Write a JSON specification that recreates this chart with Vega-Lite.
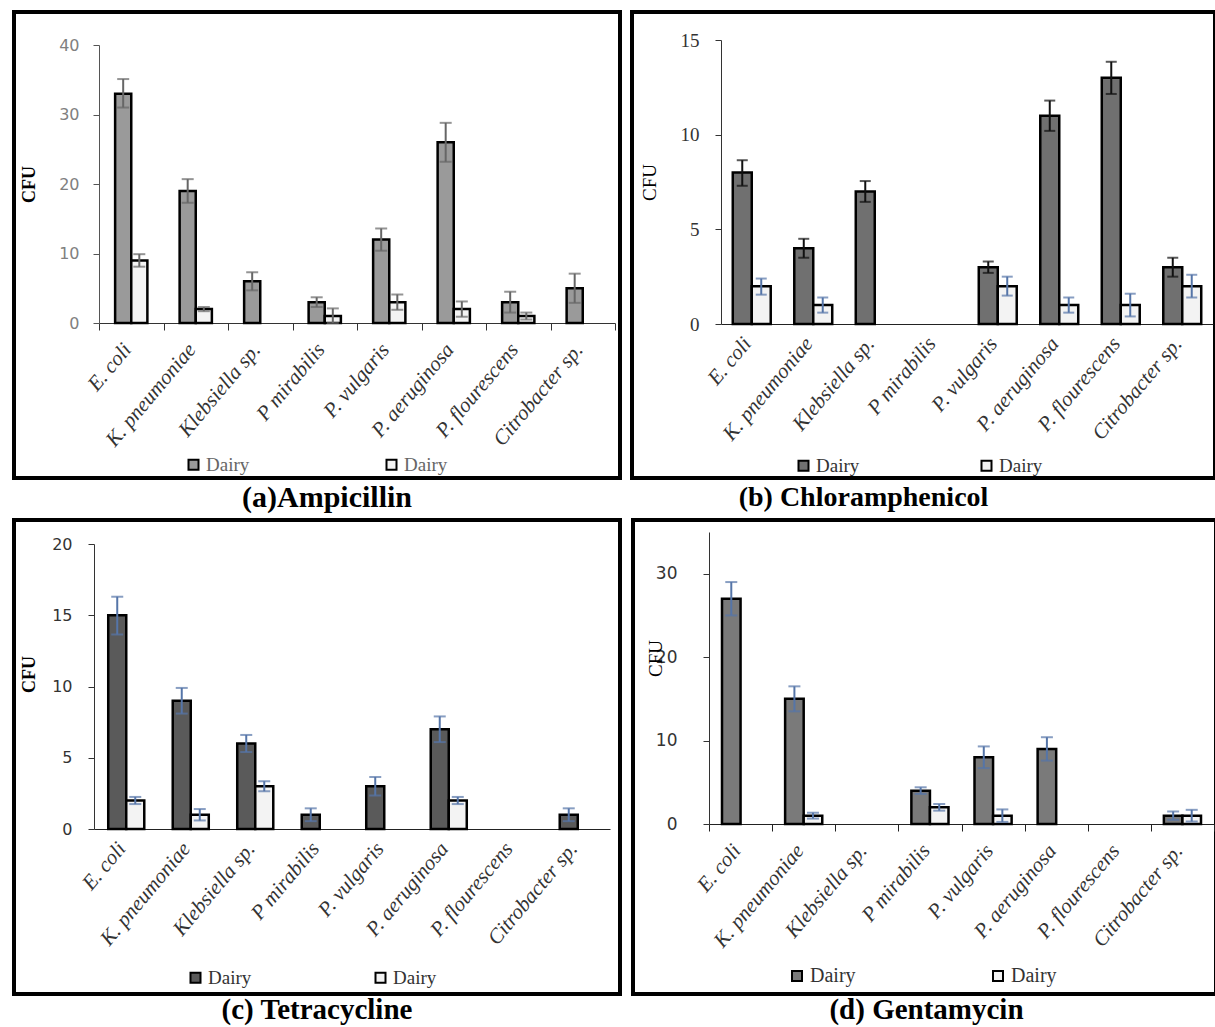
{
  "$schema": "https://vega.github.io/schema/vega-lite/v6.json",
  "background": "white",
  "padding": {"left": 3, "top": 10, "right": 0, "bottom": 0},
  "data": {"values": [
    {"antibiotic": "Ampicillin", "organism": "E. coli", "series": "Dairy 1", "value": 33, "lo": 31, "hi": 35.1},
    {"antibiotic": "Ampicillin", "organism": "E. coli", "series": "Dairy 2", "value": 9, "lo": 8.1, "hi": 9.9},
    {"antibiotic": "Ampicillin", "organism": "K. pneumoniae", "series": "Dairy 1", "value": 19, "lo": 17.3, "hi": 20.7},
    {"antibiotic": "Ampicillin", "organism": "K. pneumoniae", "series": "Dairy 2", "value": 2, "lo": 1.7, "hi": 2.3},
    {"antibiotic": "Ampicillin", "organism": "Klebsiella sp.", "series": "Dairy 1", "value": 6, "lo": 4.7, "hi": 7.3},
    {"antibiotic": "Ampicillin", "organism": "P mirabilis", "series": "Dairy 1", "value": 3, "lo": 2.3, "hi": 3.7},
    {"antibiotic": "Ampicillin", "organism": "P mirabilis", "series": "Dairy 2", "value": 1, "lo": 0, "hi": 2.1},
    {"antibiotic": "Ampicillin", "organism": "P. vulgaris", "series": "Dairy 1", "value": 12, "lo": 10.4, "hi": 13.6},
    {"antibiotic": "Ampicillin", "organism": "P. vulgaris", "series": "Dairy 2", "value": 3, "lo": 1.9, "hi": 4.1},
    {"antibiotic": "Ampicillin", "organism": "P. aeruginosa", "series": "Dairy 1", "value": 26, "lo": 23.2, "hi": 28.8},
    {"antibiotic": "Ampicillin", "organism": "P. aeruginosa", "series": "Dairy 2", "value": 2, "lo": 0.9, "hi": 3.1},
    {"antibiotic": "Ampicillin", "organism": "P. flourescens", "series": "Dairy 1", "value": 3, "lo": 1.5, "hi": 4.5},
    {"antibiotic": "Ampicillin", "organism": "P. flourescens", "series": "Dairy 2", "value": 1, "lo": 0.5, "hi": 1.5},
    {"antibiotic": "Ampicillin", "organism": "Citrobacter sp.", "series": "Dairy 1", "value": 5, "lo": 2.9, "hi": 7.1},

    {"antibiotic": "Chloramphenicol", "organism": "E. coli", "series": "Dairy 1", "value": 8, "lo": 7.3, "hi": 8.65},
    {"antibiotic": "Chloramphenicol", "organism": "E. coli", "series": "Dairy 2", "value": 2, "lo": 1.55, "hi": 2.4},
    {"antibiotic": "Chloramphenicol", "organism": "K. pneumoniae", "series": "Dairy 1", "value": 4, "lo": 3.5, "hi": 4.5},
    {"antibiotic": "Chloramphenicol", "organism": "K. pneumoniae", "series": "Dairy 2", "value": 1, "lo": 0.6, "hi": 1.4},
    {"antibiotic": "Chloramphenicol", "organism": "Klebsiella sp.", "series": "Dairy 1", "value": 7, "lo": 6.45, "hi": 7.55},
    {"antibiotic": "Chloramphenicol", "organism": "P. vulgaris", "series": "Dairy 1", "value": 3, "lo": 2.7, "hi": 3.3},
    {"antibiotic": "Chloramphenicol", "organism": "P. vulgaris", "series": "Dairy 2", "value": 2, "lo": 1.5, "hi": 2.5},
    {"antibiotic": "Chloramphenicol", "organism": "P. aeruginosa", "series": "Dairy 1", "value": 11, "lo": 10.2, "hi": 11.8},
    {"antibiotic": "Chloramphenicol", "organism": "P. aeruginosa", "series": "Dairy 2", "value": 1, "lo": 0.6, "hi": 1.4},
    {"antibiotic": "Chloramphenicol", "organism": "P. flourescens", "series": "Dairy 1", "value": 13, "lo": 12.15, "hi": 13.85},
    {"antibiotic": "Chloramphenicol", "organism": "P. flourescens", "series": "Dairy 2", "value": 1, "lo": 0.4, "hi": 1.6},
    {"antibiotic": "Chloramphenicol", "organism": "Citrobacter sp.", "series": "Dairy 1", "value": 3, "lo": 2.5, "hi": 3.5},
    {"antibiotic": "Chloramphenicol", "organism": "Citrobacter sp.", "series": "Dairy 2", "value": 2, "lo": 1.4, "hi": 2.6},

    {"antibiotic": "Tetracycline", "organism": "E. coli", "series": "Dairy 1", "value": 15, "lo": 13.65, "hi": 16.3},
    {"antibiotic": "Tetracycline", "organism": "E. coli", "series": "Dairy 2", "value": 2, "lo": 1.75, "hi": 2.25},
    {"antibiotic": "Tetracycline", "organism": "K. pneumoniae", "series": "Dairy 1", "value": 9, "lo": 8.1, "hi": 9.9},
    {"antibiotic": "Tetracycline", "organism": "K. pneumoniae", "series": "Dairy 2", "value": 1, "lo": 0.6, "hi": 1.4},
    {"antibiotic": "Tetracycline", "organism": "Klebsiella sp.", "series": "Dairy 1", "value": 6, "lo": 5.4, "hi": 6.6},
    {"antibiotic": "Tetracycline", "organism": "Klebsiella sp.", "series": "Dairy 2", "value": 3, "lo": 2.65, "hi": 3.35},
    {"antibiotic": "Tetracycline", "organism": "P mirabilis", "series": "Dairy 1", "value": 1, "lo": 0.55, "hi": 1.45},
    {"antibiotic": "Tetracycline", "organism": "P. vulgaris", "series": "Dairy 1", "value": 3, "lo": 2.35, "hi": 3.65},
    {"antibiotic": "Tetracycline", "organism": "P. aeruginosa", "series": "Dairy 1", "value": 7, "lo": 6.1, "hi": 7.9},
    {"antibiotic": "Tetracycline", "organism": "P. aeruginosa", "series": "Dairy 2", "value": 2, "lo": 1.75, "hi": 2.25},
    {"antibiotic": "Tetracycline", "organism": "Citrobacter sp.", "series": "Dairy 1", "value": 1, "lo": 0.55, "hi": 1.45},

    {"antibiotic": "Gentamycin", "organism": "E. coli", "series": "Dairy 1", "value": 27, "lo": 25, "hi": 29},
    {"antibiotic": "Gentamycin", "organism": "K. pneumoniae", "series": "Dairy 1", "value": 15, "lo": 13.5, "hi": 16.5},
    {"antibiotic": "Gentamycin", "organism": "K. pneumoniae", "series": "Dairy 2", "value": 1, "lo": 0.65, "hi": 1.35},
    {"antibiotic": "Gentamycin", "organism": "P mirabilis", "series": "Dairy 1", "value": 4, "lo": 3.6, "hi": 4.4},
    {"antibiotic": "Gentamycin", "organism": "P mirabilis", "series": "Dairy 2", "value": 2, "lo": 1.6, "hi": 2.4},
    {"antibiotic": "Gentamycin", "organism": "P. vulgaris", "series": "Dairy 1", "value": 8, "lo": 6.7, "hi": 9.3},
    {"antibiotic": "Gentamycin", "organism": "P. vulgaris", "series": "Dairy 2", "value": 1, "lo": 0.25, "hi": 1.75},
    {"antibiotic": "Gentamycin", "organism": "P. aeruginosa", "series": "Dairy 1", "value": 9, "lo": 7.6, "hi": 10.4},
    {"antibiotic": "Gentamycin", "organism": "Citrobacter sp.", "series": "Dairy 1", "value": 1, "lo": 0.5, "hi": 1.5},
    {"antibiotic": "Gentamycin", "organism": "Citrobacter sp.", "series": "Dairy 2", "value": 1, "lo": 0.3, "hi": 1.7}
  ]},
  "spacing": 3,
  "vconcat": [
    {
      "spacing": 8,
      "resolve": {"scale": {"fill": "independent", "xOffset": "independent", "x": "independent", "y": "independent"}, "legend": {"fill": "independent"}},
      "hconcat": [
        {
          "width": 606, "height": 466,
          "title": {"text": "(a)Ampicillin", "orient": "bottom", "anchor": "middle", "offset": 5, "dx": 10, "font": "Liberation Serif", "fontSize": 30, "fontWeight": "bold", "color": "black"},
          "transform": [{"filter": "datum.antibiotic === 'Ampicillin'"}],
          "encoding": {
            "x": {"field": "organism", "type": "nominal", "sort": null,
              "scale": {"domain": ["E. coli","K. pneumoniae","Klebsiella sp.","P mirabilis","P. vulgaris","P. aeruginosa","P. flourescens","Citrobacter sp."], "range": [85, 601], "paddingInner": 0, "paddingOuter": 0},
              "axis": {"title": null, "offset": -155, "labelAngle": -50, "labelAlign": "right", "labelBaseline": "middle", "labelPadding": 16, "labelOffset": -4, "tickSize": 7, "tickBand": "extent", "labelOverlap": false, "labelFont": "Liberation Serif", "labelFontStyle": "italic", "labelFontSize": 21, "labelColor": "#333", "domainColor": "#333", "tickColor": "#333"}},
            "xOffset": {"field": "series", "type": "nominal", "scale": {"domain": ["Dairy 1", "Dairy 2"], "paddingInner": 0, "paddingOuter": 1.0}}
          },
          "layer": [
            {"mark": {"type": "bar", "stroke": "black", "strokeWidth": 2.5},
             "encoding": {
               "y": {"field": "value", "type": "quantitative", "scale": {"domain": [0, 40], "range": [311, 33], "nice": false},
                 "axis": {"title": "CFU", "values": [0, 10, 20, 30, 40], "offset": -85, "grid": false, "tickSize": 6, "labelPadding": 14, "labelFont": "DejaVu Sans", "labelFontSize": 16, "labelColor": "#808080", "domainColor": "#555", "tickColor": "#555", "titleFont": "Liberation Serif", "titleFontWeight": "bold", "titleFontSize": 18, "titleColor": "black", "titlePadding": 20}},
               "fill": {"field": "series", "type": "nominal", "scale": {"domain": ["Dairy 1", "Dairy 2"], "range": ["#9a9a9a", "#f3f3f3"]},
                 "legend": {"orient": "none", "legendX": 170, "legendY": 443, "direction": "horizontal", "title": null, "labelExpr": "'Dairy'", "symbolType": "square", "symbolSize": 100, "symbolStrokeColor": "black", "symbolStrokeWidth": 2, "labelFont": "Liberation Serif", "labelFontSize": 19, "labelColor": "#666", "columnPadding": 132, "labelOffset": 3, "padding": 0,
                   "encode": {"labels": {"update": {"font": {"value": "Liberation Serif"}}}, "symbols": {"update": {"stroke": {"value": "black"}, "strokeWidth": {"value": 2}}}}}}
             }},
            {"mark": {"type": "rule", "strokeWidth": 2, "color": "#666666"},
             "encoding": {"y": {"field": "lo", "type": "quantitative"}, "y2": {"field": "hi"}}},
            {"mark": {"type": "tick", "orient": "horizontal", "size": 12, "thickness": 2, "color": "#666666"},
             "encoding": {"y": {"field": "hi", "type": "quantitative"}}},
            {"mark": {"type": "tick", "orient": "horizontal", "size": 12, "thickness": 2, "color": "#666666"},
             "encoding": {"y": {"field": "lo", "type": "quantitative"}}}
          ]
        },
        {
          "width": 583, "height": 466,
          "title": {"text": "(b) Chloramphenicol", "orient": "bottom", "anchor": "middle", "offset": 6, "dx": -60, "font": "Liberation Serif", "fontSize": 28, "fontWeight": "bold", "color": "black"},
          "transform": [{"filter": "datum.antibiotic === 'Chloramphenicol'"}],
          "encoding": {
            "x": {"field": "organism", "type": "nominal", "sort": null,
              "scale": {"domain": ["E. coli","K. pneumoniae","Klebsiella sp.","P mirabilis","P. vulgaris","P. aeruginosa","P. flourescens","Citrobacter sp."], "range": [89, 581], "paddingInner": 0, "paddingOuter": 0},
              "axis": {"title": null, "offset": -154, "labelAngle": -50, "labelAlign": "right", "labelBaseline": "middle", "labelPadding": 16, "labelOffset": -4, "tickSize": 7, "ticks": false, "labelOverlap": false, "labelFont": "Liberation Serif", "labelFontStyle": "italic", "labelFontSize": 21, "labelColor": "#333", "domainColor": "#222"}},
            "xOffset": {"field": "series", "type": "nominal", "scale": {"domain": ["Dairy 1", "Dairy 2"], "paddingInner": 0, "paddingOuter": 0.62}}
          },
          "layer": [
            {"mark": {"type": "bar", "stroke": "black", "strokeWidth": 2.5},
             "encoding": {
               "y": {"field": "value", "type": "quantitative", "scale": {"domain": [0, 15], "range": [312, 28], "nice": false},
                 "axis": {"title": "CFU", "values": [0, 5, 10, 15], "offset": -89, "grid": false, "tickSize": 6, "labelPadding": 16, "labelFont": "Liberation Serif", "labelFontSize": 19, "labelColor": "#333", "domainColor": "#333", "tickColor": "#333", "titleFont": "Liberation Serif", "titleFontWeight": "normal", "titleFontSize": 19, "titleColor": "black", "titlePadding": 21}},
               "fill": {"field": "series", "type": "nominal", "scale": {"domain": ["Dairy 1", "Dairy 2"], "range": ["#707070", "#f3f3f3"]},
                 "legend": {"orient": "none", "legendX": 162, "legendY": 444, "direction": "horizontal", "title": null, "labelExpr": "'Dairy'", "symbolType": "square", "symbolSize": 100, "symbolStrokeColor": "black", "symbolStrokeWidth": 2, "labelFont": "Liberation Serif", "labelFontSize": 19, "labelColor": "#333", "columnPadding": 117, "labelOffset": 3, "padding": 0,
                   "encode": {"labels": {"update": {"font": {"value": "Liberation Serif"}}}, "symbols": {"update": {"stroke": {"value": "black"}, "strokeWidth": {"value": 2}}}}}}
             }},
            {"transform": [{"filter": "datum.series === 'Dairy 1'"}],
             "layer": [
               {"mark": {"type": "rule", "strokeWidth": 2, "color": "#111111"},
                "encoding": {"y": {"field": "lo", "type": "quantitative"}, "y2": {"field": "hi"}}},
               {"mark": {"type": "tick", "orient": "horizontal", "size": 11, "thickness": 2, "color": "#111111"},
                "encoding": {"y": {"field": "hi", "type": "quantitative"}}},
               {"mark": {"type": "tick", "orient": "horizontal", "size": 11, "thickness": 2, "color": "#111111"},
                "encoding": {"y": {"field": "lo", "type": "quantitative"}}}
             ]},
            {"transform": [{"filter": "datum.series === 'Dairy 2'"}],
             "layer": [
               {"mark": {"type": "rule", "strokeWidth": 2, "color": "#5575a8"},
                "encoding": {"y": {"field": "lo", "type": "quantitative"}, "y2": {"field": "hi"}}},
               {"mark": {"type": "tick", "orient": "horizontal", "size": 11, "thickness": 2, "color": "#5575a8"},
                "encoding": {"y": {"field": "hi", "type": "quantitative"}}},
               {"mark": {"type": "tick", "orient": "horizontal", "size": 11, "thickness": 2, "color": "#5575a8"},
                "encoding": {"y": {"field": "lo", "type": "quantitative"}}}
             ]}
          ]
        }
      ]
    },
    {
      "spacing": 0,
      "resolve": {"scale": {"fill": "independent", "xOffset": "independent", "x": "independent", "y": "independent"}, "legend": {"fill": "independent"}},
      "hconcat": [
        {
          "width": 606, "height": 474,
          "title": {"text": "(c) Tetracycline", "orient": "bottom", "anchor": "middle", "offset": 2, "dx": 0, "font": "Liberation Serif", "fontSize": 29, "fontWeight": "bold", "color": "black"},
          "transform": [{"filter": "datum.antibiotic === 'Tetracycline'"}],
          "encoding": {
            "x": {"field": "organism", "type": "nominal", "sort": null,
              "scale": {"domain": ["E. coli","K. pneumoniae","Klebsiella sp.","P mirabilis","P. vulgaris","P. aeruginosa","P. flourescens","Citrobacter sp."], "range": [80, 596], "paddingInner": 0, "paddingOuter": 0},
              "axis": {"title": null, "offset": -165, "labelAngle": -50, "labelAlign": "right", "labelBaseline": "middle", "labelPadding": 16, "labelOffset": -4, "tickSize": 7, "ticks": false, "labelOverlap": false, "labelFont": "Liberation Serif", "labelFontStyle": "italic", "labelFontSize": 21, "labelColor": "#333", "domainColor": "#222"}},
            "xOffset": {"field": "series", "type": "nominal", "scale": {"domain": ["Dairy 1", "Dairy 2"], "paddingInner": 0, "paddingOuter": 0.79}}
          },
          "layer": [
            {"mark": {"type": "bar", "stroke": "black", "strokeWidth": 2.5},
             "encoding": {
               "y": {"field": "value", "type": "quantitative", "scale": {"domain": [0, 20], "range": [309, 24], "nice": false},
                 "axis": {"title": "CFU", "values": [0, 5, 10, 15, 20], "offset": -80, "grid": false, "tickSize": 6, "labelPadding": 16, "labelFont": "DejaVu Sans", "labelFontSize": 16, "labelColor": "#333", "domainColor": "#333", "tickColor": "#333", "titleFont": "Liberation Serif", "titleFontWeight": "bold", "titleFontSize": 18, "titleColor": "black", "titlePadding": 13, "titleY": 154}},
               "fill": {"field": "series", "type": "nominal", "scale": {"domain": ["Dairy 1", "Dairy 2"], "range": ["#5a5a5a", "#f3f3f3"]},
                 "legend": {"orient": "none", "legendX": 172, "legendY": 448, "direction": "horizontal", "title": null, "labelExpr": "'Dairy'", "symbolType": "square", "symbolSize": 100, "symbolStrokeColor": "black", "symbolStrokeWidth": 2, "labelFont": "Liberation Serif", "labelFontSize": 19, "labelColor": "#333", "columnPadding": 119, "labelOffset": 3, "padding": 0,
                   "encode": {"labels": {"update": {"font": {"value": "Liberation Serif"}}}, "symbols": {"update": {"stroke": {"value": "black"}, "strokeWidth": {"value": 2}}}}}}
             }},
            {"mark": {"type": "rule", "strokeWidth": 2, "color": "#5575a8"},
             "encoding": {"y": {"field": "lo", "type": "quantitative"}, "y2": {"field": "hi"}}},
            {"mark": {"type": "tick", "orient": "horizontal", "size": 12, "thickness": 2, "color": "#5575a8"},
             "encoding": {"y": {"field": "hi", "type": "quantitative"}}},
            {"mark": {"type": "tick", "orient": "horizontal", "size": 12, "thickness": 2, "color": "#5575a8"},
             "encoding": {"y": {"field": "lo", "type": "quantitative"}}}
          ]
        },
        {
          "width": 583, "height": 474,
          "title": {"text": "(d) Gentamycin", "orient": "bottom", "anchor": "middle", "offset": 2, "dx": 2, "font": "Liberation Serif", "fontSize": 29, "fontWeight": "bold", "color": "black"},
          "transform": [{"filter": "datum.antibiotic === 'Gentamycin'"}],
          "encoding": {
            "x": {"field": "organism", "type": "nominal", "sort": null,
              "scale": {"domain": ["E. coli","K. pneumoniae","Klebsiella sp.","P mirabilis","P. vulgaris","P. aeruginosa","P. flourescens","Citrobacter sp."], "range": [76, 581], "paddingInner": 0, "paddingOuter": 0},
              "axis": {"title": null, "offset": -170, "labelAngle": -50, "labelAlign": "right", "labelBaseline": "middle", "labelPadding": 16, "labelOffset": -4, "tickSize": 7, "tickBand": "extent", "labelOverlap": false, "labelFont": "Liberation Serif", "labelFontStyle": "italic", "labelFontSize": 21, "labelColor": "#333", "domainColor": "#222", "tickColor": "#222"}},
            "xOffset": {"field": "series", "type": "nominal", "scale": {"domain": ["Dairy 1", "Dairy 2"], "paddingInner": 0, "paddingOuter": 0.7}}
          },
          "layer": [
            {"mark": {"type": "bar", "stroke": "black", "strokeWidth": 2.5},
             "encoding": {
               "y": {"field": "value", "type": "quantitative", "scale": {"domain": [0, 35], "range": [304, 12], "nice": false},
                 "axis": {"title": "CFU", "values": [0, 10, 20, 30], "offset": -76, "grid": false, "tickSize": 6, "labelPadding": 26, "labelFont": "DejaVu Sans", "labelFontSize": 17, "labelColor": "#333", "domainColor": "#333", "tickColor": "#333", "titleFont": "Liberation Serif", "titleFontWeight": "normal", "titleFontSize": 19, "titleColor": "black", "titlePadding": -10, "titleY": 138}},
               "fill": {"field": "series", "type": "nominal", "scale": {"domain": ["Dairy 1", "Dairy 2"], "range": ["#7a7a7a", "#f3f3f3"]},
                 "legend": {"orient": "none", "legendX": 154, "legendY": 446, "direction": "horizontal", "title": null, "labelExpr": "'Dairy'", "symbolType": "square", "symbolSize": 100, "symbolStrokeColor": "black", "symbolStrokeWidth": 2, "labelFont": "Liberation Serif", "labelFontSize": 20, "labelColor": "#333", "columnPadding": 132, "labelOffset": 3, "padding": 0,
                   "encode": {"labels": {"update": {"font": {"value": "Liberation Serif"}}}, "symbols": {"update": {"stroke": {"value": "black"}, "strokeWidth": {"value": 2}}}}}}
             }},
            {"mark": {"type": "rule", "strokeWidth": 2, "color": "#5575a8"},
             "encoding": {"y": {"field": "lo", "type": "quantitative"}, "y2": {"field": "hi"}}},
            {"mark": {"type": "tick", "orient": "horizontal", "size": 12, "thickness": 2, "color": "#5575a8"},
             "encoding": {"y": {"field": "hi", "type": "quantitative"}}},
            {"mark": {"type": "tick", "orient": "horizontal", "size": 12, "thickness": 2, "color": "#5575a8"},
             "encoding": {"y": {"field": "lo", "type": "quantitative"}}}
          ]
        }
      ]
    }
  ],
  "config": {
    "view": {"stroke": "black", "strokeWidth": 4, "fill": "white"},
    "axis": {"grid": false}
  }
}
